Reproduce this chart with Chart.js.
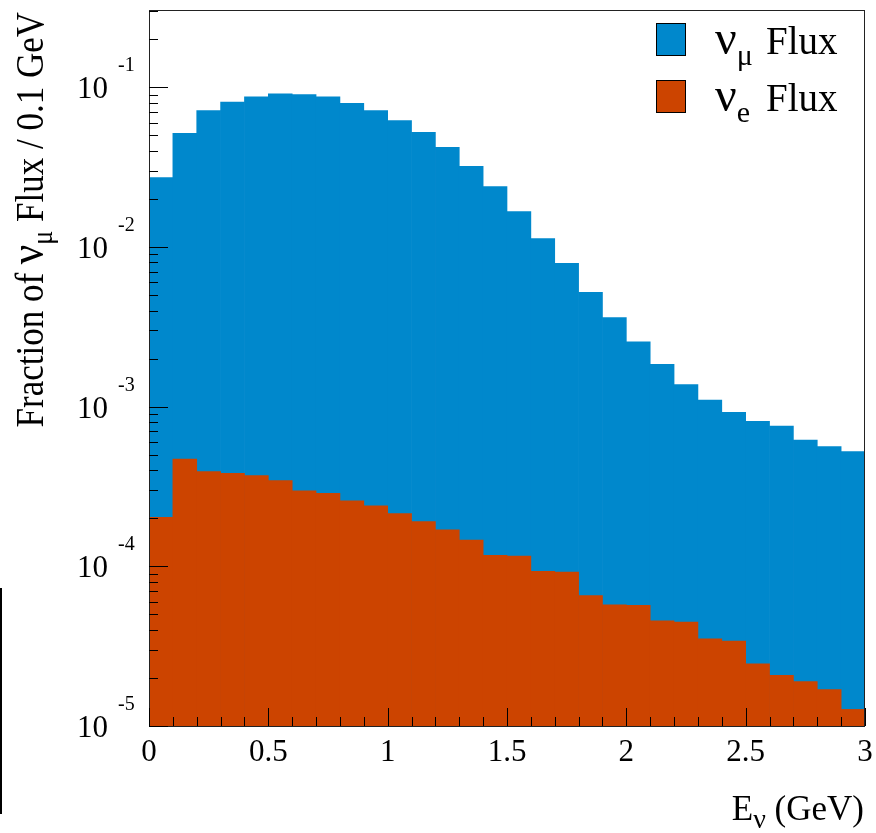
<!DOCTYPE html>
<html>
<head>
<meta charset="utf-8">
<script src="https://cdn.jsdelivr.net/npm/chart.js@4.4.1/dist/chart.umd.min.js"></script>
<style>
  html, body { margin: 0; padding: 0; background: #fff; }
  #box { width: 876px; height: 833px; position: relative; }
</style>
</head>
<body>
<div id="box"><canvas id="fluxChart"></canvas></div>
<script>
// bin centres in GeV (0.1 GeV bins)
var binCenters = [0.05, 0.15, 0.25, 0.35, 0.45, 0.55, 0.65, 0.75, 0.85, 0.95,
                  1.05, 1.15, 1.25, 1.35, 1.45, 1.55, 1.65, 1.75, 1.85, 1.95,
                  2.05, 2.15, 2.25, 2.35, 2.45, 2.55, 2.65, 2.75, 2.85, 2.95];

var numuFlux = [0.0272, 0.0515, 0.0714, 0.0809, 0.0873, 0.0912, 0.0900, 0.0873, 0.0794, 0.0714,
                0.0618, 0.0523, 0.0421, 0.0320, 0.0239, 0.01665, 0.01127, 0.00791, 0.00520, 0.00361,
                0.00255, 0.00184, 0.001374, 0.00110, 0.000923, 0.000810, 0.000757, 0.000617, 0.000562, 0.000523];

var nueFlux = [0.000203, 0.000469, 0.000392, 0.000383, 0.000370, 0.000344, 0.000297, 0.000287, 0.000257, 0.000239,
               0.000214, 0.000191, 0.000169, 0.000146, 0.000117, 0.000116, 0.0000930, 0.0000920, 0.0000656, 0.0000575,
               0.0000570, 0.0000455, 0.0000447, 0.0000351, 0.0000340, 0.0000245, 0.0000208, 0.0000190, 0.0000169, 0.0000127];

var yMajorTicks = [1e-5, 1e-4, 1e-3, 1e-2, 1e-1];
var yTickExponents = ['-5', '-4', '-3', '-2', '-1'];
var xMajorTicks = [0, 0.5, 1, 1.5, 2, 2.5, 3];
var xTickLabels = ['0', '0.5', '1', '1.5', '2', '2.5', '3'];

var blue = '#0088cc';
var red = '#cc4400';
var serif = '"Liberation Serif", "DejaVu Serif", serif';

function toPoints(vals) {
  var pts = [];
  for (var i = 0; i < vals.length; i++) pts.push({ x: binCenters[i], y: vals[i] });
  return pts;
}

// draws a run of [text, size, dy] pieces left to right, returns the end x
function drawRun(ctx, pieces, x, y) {
  for (var i = 0; i < pieces.length; i++) {
    ctx.font = pieces[i][1] + 'px ' + serif;
    ctx.fillText(pieces[i][0], x, y + pieces[i][2]);
    x += ctx.measureText(pieces[i][0]).width;
  }
  return x;
}
function runWidth(ctx, pieces) {
  var w = 0;
  for (var i = 0; i < pieces.length; i++) {
    ctx.font = pieces[i][1] + 'px ' + serif;
    w += ctx.measureText(pieces[i][0]).width;
  }
  return w;
}

// frame, ROOT-style ticks, labels, titles and legend
var rootStyle = {
  id: 'rootStyle',
  afterDatasetsDraw: function(chart) {
    var ctx = chart.ctx, a = chart.chartArea;
    var xs = chart.scales.x, ys = chart.scales.y;
    var i, k, p;
    ctx.save();

    ctx.strokeStyle = '#222';
    ctx.lineWidth = 1;
    ctx.strokeRect(a.left + 0.5, a.top + 0.5, a.right - a.left - 1, a.bottom - a.top);

    // y ticks
    ctx.strokeStyle = '#000';
    ctx.beginPath();
    for (i = -5; i <= -1; i++) {
      for (k = 1; k <= 9; k++) {
        var v = k * Math.pow(10, i);
        if (v > ys.max) break;
        p = Math.round(ys.getPixelForValue(v)) + 0.5;
        ctx.moveTo(a.left, p);
        ctx.lineTo(a.left + (k === 1 ? 19 : 9), p);
      }
    }
    // x ticks
    for (i = 0; i <= 30; i++) {
      p = Math.round(xs.getPixelForValue(i / 10)) + 0.5;
      ctx.moveTo(p, a.bottom);
      ctx.lineTo(p, a.bottom - (i % 5 === 0 ? 18 : 9));
    }
    ctx.stroke();

    ctx.fillStyle = '#000';
    ctx.textBaseline = 'alphabetic';
    // y tick labels: 10 with superscript exponent
    for (i = 0; i < yMajorTicks.length; i++) {
      p = ys.getPixelForValue(yMajorTicks[i]);
      ctx.font = '31px ' + serif;
      ctx.textAlign = 'right';
      ctx.fillText('10', 108, p + 11);
      ctx.font = '20px ' + serif;
      ctx.textAlign = 'left';
      ctx.fillText(yTickExponents[i], 118, p - 16);
    }
    // x tick labels
    ctx.font = '31px ' + serif;
    ctx.textAlign = 'center';
    for (i = 0; i < xMajorTicks.length; i++) {
      ctx.fillText(xTickLabels[i], xs.getPixelForValue(xMajorTicks[i]), 761);
    }
    ctx.textAlign = 'left';

    // x title
    var xt = [['E', 35, 0], ['ν', 28, 8], [' (GeV)', 35, 0]];
    drawRun(ctx, xt, 864 - runWidth(ctx, xt), 820);

    // y title (rotated, letters a bit taller like the original)
    var yt = [['Fraction of ', 35, 0], ['ν', 43, 0], ['μ', 26, 8], [' Flux / 0.1 GeV', 35, 0]];
    ctx.save();
    ctx.translate(43, 12 + runWidth(ctx, yt));
    ctx.rotate(-Math.PI / 2);
    ctx.scale(1, 1.15);
    drawRun(ctx, yt, 0, 0);
    ctx.restore();

    // legend
    var entries = [
      { color: blue, sub: 'μ', top: 23, base: 54 },
      { color: red, sub: 'e', top: 80, base: 111 }
    ];
    for (i = 0; i < entries.length; i++) {
      var e = entries[i];
      ctx.fillStyle = e.color;
      ctx.fillRect(656, e.top, 30, 33);
      ctx.strokeStyle = '#000';
      ctx.strokeRect(656.5, e.top + 0.5, 29, 32);
      ctx.fillStyle = '#000';
      drawRun(ctx, [['ν', 48, 0], [e.sub, 30, 11]], 715, e.base);
      ctx.font = '39px ' + serif;
      ctx.fillText('Flux', 766, e.base);
    }

    // stray line at the left edge of the picture
    ctx.fillRect(0, 588, 2, 226);

    ctx.restore();
  }
};

var ctx = document.getElementById('fluxChart').getContext('2d');
var fluxChart = new Chart(ctx, {
  type: 'bar',
  data: {
    datasets: [{
      label: 'νμ Flux',
      data: toPoints(numuFlux),
      backgroundColor: blue,
      borderWidth: 0,
      order: 2
    }, {
      label: 'νe Flux',
      data: toPoints(nueFlux),
      backgroundColor: red,
      borderWidth: 0,
      order: 1
    }]
  },
  options: {
    responsive: true,
    maintainAspectRatio: false,
    animation: false,
    layout: { padding: { left: 149, top: 10, right: 11, bottom: 107 } },
    datasets: {
      bar: { grouped: false, barPercentage: 1.0, categoryPercentage: 1.0 }
    },
    plugins: { legend: { display: false }, tooltip: { enabled: false } },
    scales: {
      x: {
        type: 'linear', display: false, min: 0, max: 3, offset: false,
        ticks: { stepSize: 0.5 }
      },
      y: {
        type: 'logarithmic', display: false, min: 1e-5, max: 0.305
      }
    }
  },
  plugins: [rootStyle]
});
</script>
</body>
</html>
